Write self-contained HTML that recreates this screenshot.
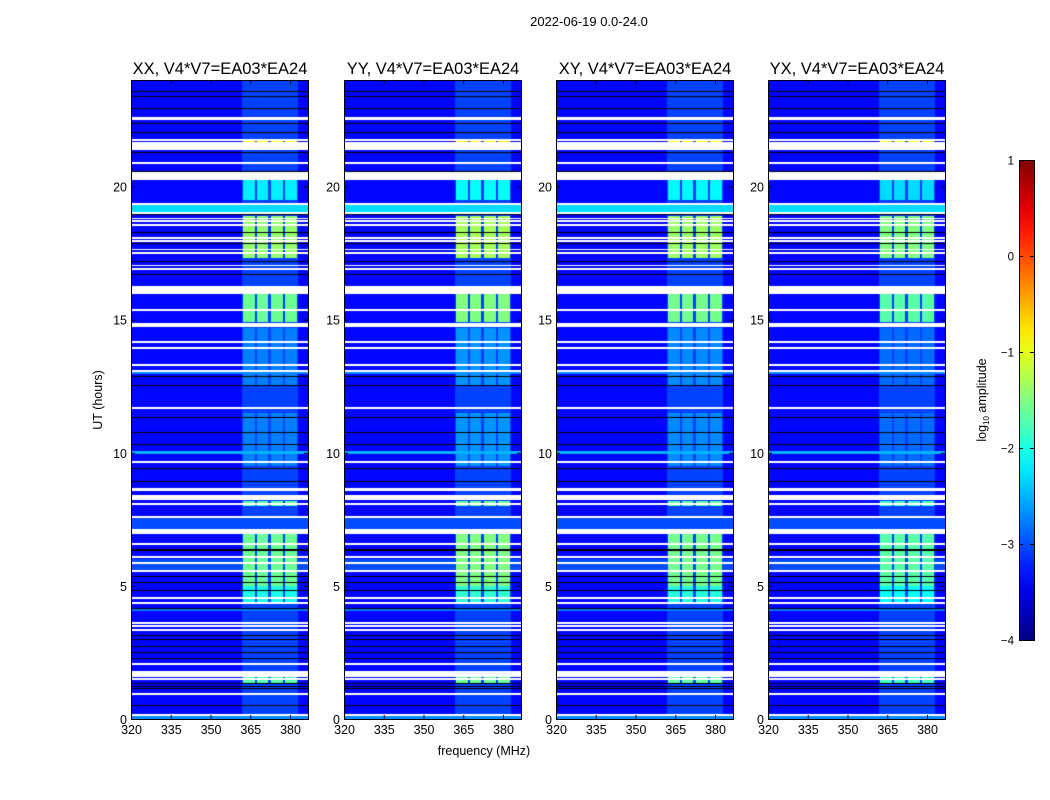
<!DOCTYPE html>
<html><head><meta charset="utf-8"><style>
body{margin:0;background:#fff;width:1050px;height:800px;overflow:hidden;position:relative;font-family:"Liberation Sans",sans-serif}
canvas{position:absolute}
svg{position:absolute;left:0;top:0}
</style></head><body>
<div id="plots"></div>
<svg id="ov" width="1050" height="800"></svg>
<script>
// ---- data ----
const panelNames=['XX','YY','XY','YX'];
const panelLeft=[131,344,556,768];
const panelRfiOffset=[0,0.1,0.05,-0.1];
const xTicks=[320,335,350,365,380];
const yTicks=[0,5,10,15,20];
const cbTicks=[1,0,-1,-2,-3,-4];
const whiteGaps=[[22.52,22.58],[21.74,21.78],[21.4,21.66],[20.88,20.92],[20.28,20.54],[19.34,19.38],[18.98,19.02],[18.78,18.81],[18.68,18.71],[18.55,18.58],[18.05,18.08],[17.95,17.98],[17.62,17.65],[17.5,17.53],[17.02,17.05],[16.9,16.93],[16.0,16.25],[15.34,15.38],[14.76,14.87],[14.14,14.18],[13.9,13.94],[13.29,13.32],[13.04,13.08],[11.65,11.69],[9.62,9.66],[8.6,8.64],[8.25,8.4],[8.05,8.09],[7.58,7.62],[6.95,7.1],[6.56,6.6],[6.06,6.1],[5.84,5.88],[5.53,5.57],[4.52,4.56],[4.33,4.37],[3.58,3.62],[3.47,3.51],[3.32,3.36],[2.04,2.08],[1.61,1.77],[1.48,1.52],[0.92,0.96],[0.12,0.17]];
const flaggedRows=[23.6,23.4,22.94,22.4,22.06,21.3,20.6,18.95,18.3,17.86,17.2,16.7,13.3,12.9,12.53,11.34,10.78,10.32,9.42,8.93,6.37,6.33,5.37,5.15,4.84,4.17,3.15,3.0,2.75,2.5,2.3,2.1,1.35,1.25,1.16,0.52];
const bgSegments=[[19.02,19.34,-2.3],[9.96,10.06,-2.5],[12.95,13.05,-2.7],[4.05,4.12,-2.8],[7.1,7.6,-3.0],[5.6,6.0,-3.0],[0,0.12,-2.7]];
const bgDefault=-3.35;
const rfiSegments=[[21.62,21.7,-0.9],[19.5,20.5,-2.2],[17.3,18.9,-1.4],[14.9,16.0,-1.6],[12.5,14.7,-2.75],[9.5,11.5,-2.75],[8.0,8.2,-1.7],[5.0,7.0,-1.6],[4.4,5.0,-2.0],[1.3,1.7,-1.7]];
const subbands=[[362.3,366.8],[367.5,371.7],[372.8,377.3],[378,382.6]];
const diffuseBand=[362,383,-3.05];
// ---- render ----
const plotTop=80,plotBottom=719,W=177,H=plotBottom-plotTop;
const fMin=320,fPerPx=1/2.65,tMax=24;
function xOf(f){return (f-fMin)/fPerPx}
function yOf(t){return H-t*H/tMax}
function jet(v){let x=(v+4)/5;x=Math.max(0,Math.min(1,x));
 const c=u=>Math.max(0,Math.min(1,u));
 return [c(1.5-Math.abs(4*x-3)),c(1.5-Math.abs(4*x-2)),c(1.5-Math.abs(4*x-1))].map(u=>Math.round(u*255));}
function seg(arr,t,def){let v=def;for(const s of arr){if(t>=s[0]&&t<=s[1])v=Math.max(v,s[2]);}return v}
const plots=document.getElementById('plots');
panelNames.forEach((name,pi)=>{
 const cv=document.createElement('canvas');cv.width=W;cv.height=H;
 cv.style.left=panelLeft[pi]+'px';cv.style.top=plotTop+'px';
 
 
 plots.appendChild(cv);
 const ctx=cv.getContext('2d');const img=ctx.createImageData(W,H);
 const rowState=new Array(H).fill(0);
 whiteGaps.forEach(g=>{const y0=Math.floor(yOf(g[1])),y1=Math.max(y0,Math.floor(yOf(g[0])));for(let y=y0;y<=y1;y++)if(y>=0&&y<H)rowState[y]=1;});
 flaggedRows.forEach(t=>{const y=Math.round(yOf(t));if(y>=0&&y<H&&rowState[y]!==1)rowState[y]=2;});
 for(let y=0;y<H;y++){const t=(H-y-0.5)*tMax/H;
  const bg=seg(bgSegments,t,bgDefault);const rf=seg(rfiSegments,t,-9)+panelRfiOffset[pi];
  for(let x=0;x<W;x++){const f=fMin+(x+0.5)*fPerPx;let rgb;
   if(rowState[y]===1)rgb=[255,255,255];else if(rowState[y]===2)rgb=[0,0,0];
   else{let v=bg;if(f>=diffuseBand[0]&&f<=diffuseBand[1])v=Math.max(v,diffuseBand[2]);
    for(const s of subbands)if(f>=s[0]&&f<=s[1])v=Math.max(v,rf);
    rgb=jet(v);}
   const i=(y*W+x)*4;img.data[i]=rgb[0];img.data[i+1]=rgb[1];img.data[i+2]=rgb[2];img.data[i+3]=255;}}
 ctx.putImageData(img,0,0);
});
// ---- overlay ----
const ov=document.getElementById('ov');const NS='http://www.w3.org/2000/svg';
function el(tag,attrs,txt){const e=document.createElementNS(NS,tag);for(const k in attrs)e.setAttribute(k,attrs[k]);if(txt!==undefined)e.textContent=txt;ov.appendChild(e);return e}
panelNames.forEach((name,pi)=>{const L=panelLeft[pi];
 const fr=el('rect',{x:L+0.5,y:plotTop+0.5,width:W,height:H,fill:'none',stroke:'#000','stroke-width':1});
 
 
 const tt=el('text',{x:L+W/2+0.5,y:74,'text-anchor':'middle','font-size':16.5},name+', V4*V7=EA03*EA24');
 
 
 xTicks.forEach(v=>{const x=L+xOf(v)+0.5;
  el('line',{x1:x,x2:x,y1:plotBottom,y2:plotBottom-4,stroke:'#000'});el('line',{x1:x,x2:x,y1:plotTop,y2:plotTop+4,stroke:'#000'});
  const tl=el('text',{x:x,y:plotBottom+15,'text-anchor':'middle','font-size':12.5},String(v));
  
  });
 yTicks.forEach(v=>{const y=plotTop+yOf(v)+0.5;
  el('line',{x1:L,x2:L+4,y1:y,y2:y,stroke:'#000'});el('line',{x1:L+W,x2:L+W-4,y1:y,y2:y,stroke:'#000'});
  const tl=el('text',{x:L-4,y:y+4.5,'text-anchor':'end','font-size':12.5},String(v));
  
  });
});
const st=el('text',{x:589,y:26,'text-anchor':'middle','font-size':13},'2022-06-19 0.0-24.0');


const xl=el('text',{x:484,y:755,'text-anchor':'middle','font-size':12.5},'frequency (MHz)');


const yl=el('text',{x:0,y:0,'text-anchor':'middle','font-size':12.5,transform:'translate(102,400) rotate(-90)'},'UT (hours)');


// colorbar
const defs=el('defs',{});const lg=document.createElementNS(NS,'linearGradient');lg.setAttribute('id','jet');lg.setAttribute('x1',0);lg.setAttribute('x2',0);lg.setAttribute('y1',1);lg.setAttribute('y2',0);defs.appendChild(lg);
for(let i=0;i<=20;i++){const s=document.createElementNS(NS,'stop');s.setAttribute('offset',i/20);const c=jet(-4+5*i/20);s.setAttribute('stop-color','rgb('+c.join(',')+')');lg.appendChild(s);}
const cb=el('rect',{x:1019.5,y:160.5,width:15,height:480,fill:'url(#jet)',stroke:'#000'});


cbTicks.forEach(v=>{const y=160.5+(1-v)*96;
 el('line',{x1:1019,x2:1023,y1:y,y2:y,stroke:'#000'});el('line',{x1:1034,x2:1030,y1:y,y2:y,stroke:'#000'});
 const tl=el('text',{x:1014,y:y+4,'text-anchor':'end','font-size':11.5},(v<0?'\u2212':'')+Math.abs(v));
 
 });
const cl=el('text',{x:0,y:0,'text-anchor':'middle','font-size':12.5,transform:'translate(986,400) rotate(-90)'});


cl.innerHTML='log<tspan font-size="8" dy="3">10</tspan><tspan dy="-3"> amplitude</tspan>';
</script>
</body></html>
